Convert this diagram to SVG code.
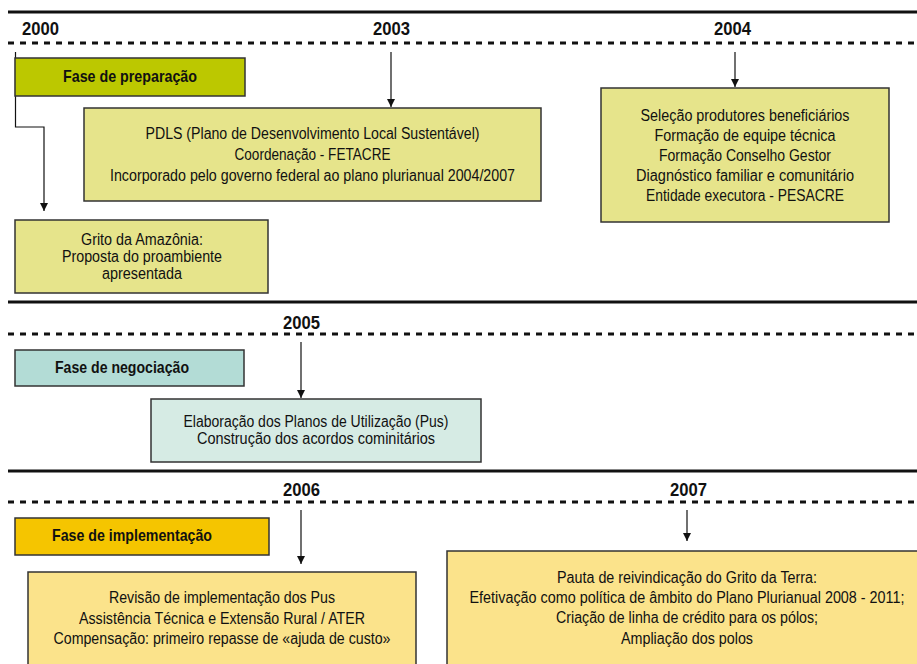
<svg xmlns="http://www.w3.org/2000/svg" width="917" height="664" viewBox="0 0 917 664">
<style>
.solid{stroke:#111;stroke-width:3;fill:none}
.dash{stroke:#111;stroke-width:3;stroke-dasharray:6 6;fill:none}
.yr{font-family:"Liberation Sans",Arial,sans-serif;font-weight:bold;font-size:18px;fill:#111}
.ph{font-family:"Liberation Sans",Arial,sans-serif;font-weight:bold;font-size:17px;fill:#111}
.tx{font-family:"Liberation Sans",Arial,sans-serif;font-size:16px;fill:#111;text-anchor:middle}
.box{stroke:#333;stroke-width:1.5}
.con{stroke:#111;stroke-width:1.2;fill:none}
</style>
<defs>
<marker id="ah" viewBox="0 0 8 8" refX="8" refY="4" markerWidth="8" markerHeight="8" markerUnits="userSpaceOnUse" orient="auto">
<path d="M0,0 L8,4 L0,8 Z" fill="#111"/>
</marker>
</defs>
<rect width="917" height="664" fill="#fff"/>
<g id="timeline">
<line class="solid" x1="8" y1="12" x2="917" y2="12"/>
<line class="dash" x1="8" y1="43" x2="917" y2="43"/>
<line class="solid" x1="8" y1="302" x2="917" y2="302"/>
<line class="dash" x1="8" y1="334" x2="917" y2="334"/>
<line class="solid" x1="8" y1="471" x2="917" y2="471"/>
<line class="dash" x1="8" y1="502" x2="917" y2="502"/>
<text class="yr" x="22" y="35" textLength="37" lengthAdjust="spacingAndGlyphs">2000</text>
<text class="yr" x="373" y="35" textLength="37" lengthAdjust="spacingAndGlyphs">2003</text>
<text class="yr" x="714" y="35" textLength="37" lengthAdjust="spacingAndGlyphs">2004</text>
<text class="yr" x="283" y="329" textLength="37" lengthAdjust="spacingAndGlyphs">2005</text>
<text class="yr" x="283" y="496" textLength="37" lengthAdjust="spacingAndGlyphs">2006</text>
<text class="yr" x="670" y="496" textLength="37" lengthAdjust="spacingAndGlyphs">2007</text>
</g>
<g id="connectors">
<path class="con" d="M15.5,52 V127 H44 V211" marker-end="url(#ah)"/>
<line class="con" x1="391" y1="52" x2="391" y2="107" marker-end="url(#ah)"/>
<line class="con" x1="735" y1="52" x2="735" y2="87" marker-end="url(#ah)"/>
<line class="con" x1="301" y1="342" x2="301" y2="398" marker-end="url(#ah)"/>
<line class="con" x1="301" y1="510" x2="301" y2="564" marker-end="url(#ah)"/>
<line class="con" x1="687" y1="510" x2="687" y2="541" marker-end="url(#ah)"/>
</g>
<g id="fase-preparacao">
<rect class="box" x="15" y="58" width="230" height="38" fill="#bcc800"/>
<text class="ph" x="63" y="82" textLength="134" lengthAdjust="spacingAndGlyphs">Fase de preparação</text>
</g>
<g id="pdls">
<rect class="box" x="84" y="108" width="457" height="93" fill="#e6e48b"/>
<text class="tx" x="312.5" y="139" textLength="334" lengthAdjust="spacingAndGlyphs">PDLS (Plano de Desenvolvimento Local Sustentável)</text>
<text class="tx" x="312.5" y="160" textLength="156" lengthAdjust="spacingAndGlyphs">Coordenação - FETACRE</text>
<text class="tx" x="312.5" y="181" textLength="405" lengthAdjust="spacingAndGlyphs">Incorporado pelo governo federal ao plano plurianual 2004/2007</text>
</g>
<g id="selecao">
<rect class="box" x="601" y="88" width="288" height="134" fill="#e6e48b"/>
<text class="tx" x="745" y="121" textLength="209" lengthAdjust="spacingAndGlyphs">Seleção produtores beneficiários</text>
<text class="tx" x="745" y="141" textLength="181" lengthAdjust="spacingAndGlyphs">Formação de equipe técnica</text>
<text class="tx" x="745" y="161" textLength="172" lengthAdjust="spacingAndGlyphs">Formação Conselho Gestor</text>
<text class="tx" x="745" y="181" textLength="218" lengthAdjust="spacingAndGlyphs">Diagnóstico familiar e comunitário</text>
<text class="tx" x="745" y="201" textLength="198" lengthAdjust="spacingAndGlyphs">Entidade executora - PESACRE</text>
</g>
<g id="grito">
<rect class="box" x="15" y="220" width="253" height="73" fill="#e6e48b"/>
<text class="tx" x="142" y="245" textLength="122" lengthAdjust="spacingAndGlyphs">Grito da Amazônia:</text>
<text class="tx" x="142" y="262" textLength="160" lengthAdjust="spacingAndGlyphs">Proposta do proambiente</text>
<text class="tx" x="142" y="279" textLength="80" lengthAdjust="spacingAndGlyphs">apresentada</text>
</g>
<g id="fase-negociacao">
<rect class="box" x="15" y="350" width="229" height="36" fill="#b3dcd6"/>
<text class="ph" x="55" y="373" textLength="134" lengthAdjust="spacingAndGlyphs">Fase de negociação</text>
</g>
<g id="elaboracao">
<rect class="box" x="151" y="399" width="330" height="63" fill="#d6ebe4"/>
<text class="tx" x="316" y="427" textLength="265" lengthAdjust="spacingAndGlyphs">Elaboração dos Planos de Utilização (Pus)</text>
<text class="tx" x="316" y="444" textLength="238" lengthAdjust="spacingAndGlyphs">Construção dos acordos cominitários</text>
</g>
<g id="fase-implementacao">
<rect class="box" x="15" y="518" width="254" height="37" fill="#f5c500"/>
<text class="ph" x="52" y="541" textLength="160" lengthAdjust="spacingAndGlyphs">Fase de implementação</text>
</g>
<g id="revisao">
<rect class="box" x="28" y="572" width="388" height="100" fill="#fbe38b"/>
<text class="tx" x="222" y="603" textLength="226" lengthAdjust="spacingAndGlyphs">Revisão de implementação dos Pus</text>
<text class="tx" x="222" y="624" textLength="286" lengthAdjust="spacingAndGlyphs">Assistência Técnica e Extensão Rural / ATER</text>
<text class="tx" x="222" y="644" textLength="337" lengthAdjust="spacingAndGlyphs">Compensação: primeiro repasse de «ajuda de custo»</text>
</g>
<g id="pauta">
<rect class="box" x="447" y="551" width="490" height="120" fill="#fbe38b"/>
<text class="tx" x="687" y="583" textLength="260" lengthAdjust="spacingAndGlyphs">Pauta de reivindicação do Grito da Terra:</text>
<text class="tx" x="687" y="603" textLength="435" lengthAdjust="spacingAndGlyphs">Efetivação como política de âmbito do Plano Plurianual 2008 - 2011;</text>
<text class="tx" x="687" y="623" textLength="262" lengthAdjust="spacingAndGlyphs">Criação de linha de crédito para os pólos;</text>
<text class="tx" x="687" y="644" textLength="132" lengthAdjust="spacingAndGlyphs">Ampliação dos polos</text>
</g>
</svg>
